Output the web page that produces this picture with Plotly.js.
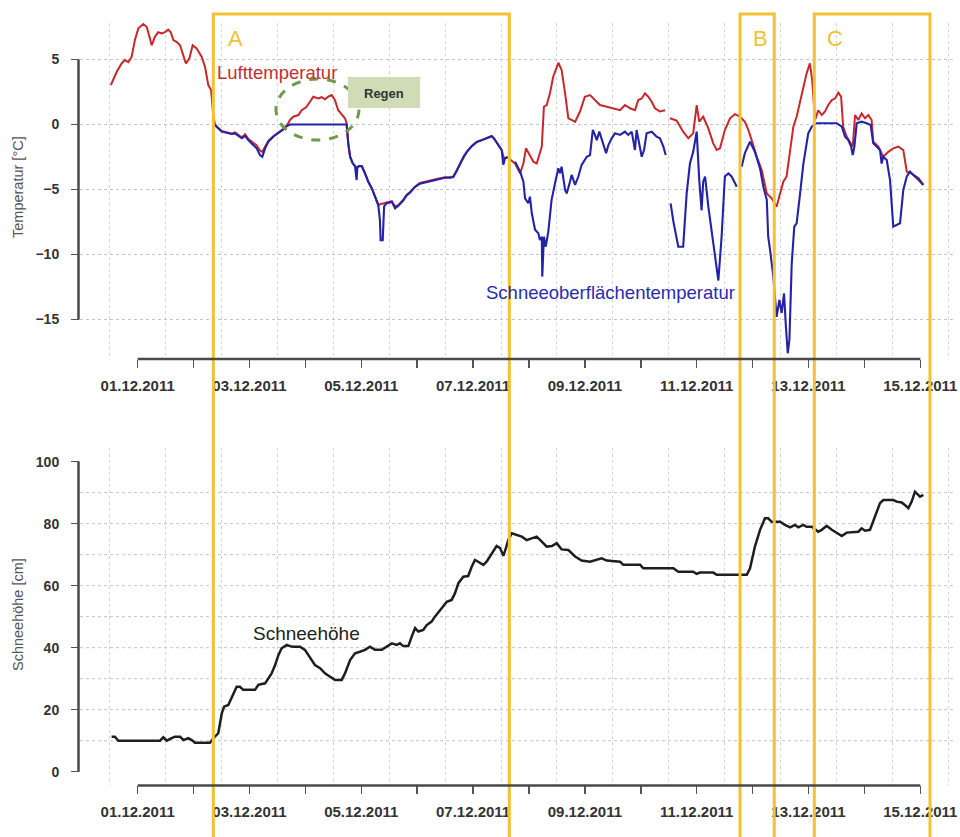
<!DOCTYPE html>
<html>
<head>
<meta charset="utf-8">
<script src="https://cdn.plot.ly/plotly-3.0.1.min.js"></script>
<style>html,body{margin:0;padding:0;background:#fff}#chart{width:960px;height:837px}</style>
</head>
<body>
<div id="chart"></div>
<script>
// ---- data: hours since 01.12.2011 00:00 ----
const airHours = [-11.5,-9.0,-6.9,-5.5,-4.0,-2.6,-1.2,0.3,2.4,3.9,5.3,6.0,7.4,8.8,10.3,11.7,13.1,14.2,15.3,16.7,18.2,19.6,20.7,22.2,23.6,25.3,27.5,28.9,30.3,31.5,32.5,33.2,
33.9,36.1,38.2,40.4,41.8,43.2,44.7,46.1,47.5,49.6,51.1,52.5,53.5,54.7,56.1,58.2,60.4,62.5,64.0,65.4,
66.8,69.0,70.4,72.3,74.0,75.4,77.5,79.0,80.4,81.8,83.3,84.7,86.1,87.6,89.0,89.7,
90.4,91.2,92.3,93.3,94.0,95.1,96.2,97.6,99.0,100.5,101.9,103.3,104.0,104.3,105.2,105.8,106.9,109.1,110.5,111.9,114.0,115.5,116.9,119.1,121.2,123.4,125.5,127.6,129.8,131.9,134.1,135.5,137.0,138.4,139.8,141.3,143.4,145.6,147.7,149.8,152.0,153.0,154.8,156.3,157.0,157.7,158.7,
162.0,164.2,165.6,166.7,168.4,169.9,171.3,173.5,174.4,175.6,177.0,178.4,180.6,182.0,183.5,184.9,186.3,187.8,189.9,192.0,194.2,196.3,198.5,201.4,204.2,207.1,209.2,211.4,213.5,214.9,216.4,217.8,219.2,220.7,222.1,224.2,226.4,227.5,
228.5,231.4,234.2,236.4,238.5,240.0,241.1,242.8,245.0,247.1,248.6,250.0,252.1,254.3,256.4,258.6,260.7,262.2,263.6,265.8,267.9,270.1,272.2,274.3,275.8,277.2,278.6,280.1,281.5,282.9,284.4,285.8,287.2,288.6,289.6,290.8,292.2,293.7,295.1,296.5,298.0,299.4,300.8,302.0,302.9,304.4,305.8,307.0,308.0,309.4,310.8,312.3,313.7,315.1,315.8,318.0,320.1,322.3,324.4,326.6,328.7,330.2,332.3,334.5,337.3];
const airTemp = [3.04,4.06,4.7,4.96,4.8,5.2,6.5,7.4,7.73,7.5,6.6,6.1,6.75,7.1,7.0,7.1,7.3,7.1,6.5,6.37,6.1,5.35,4.7,5.1,6.1,5.86,5.2,4.45,3.04,2.65,0.6,0.0,
-0.15,-0.5,-0.6,-0.7,-0.6,-0.8,-1.0,-0.75,-1.1,-1.4,-1.6,-2.0,-2.1,-1.7,-1.25,-0.9,-0.65,-0.35,-0.1,0.35,
0.6,0.73,1.1,1.32,1.75,2.14,2.0,2.1,1.94,2.14,2.27,1.88,1.1,0.73,0.48,0.1,
-1.45,-2.48,-2.98,-3.2,-3.3,-3.2,-3.2,-3.76,-4.4,-4.9,-5.55,-6.2,-6.15,-6.1,-6.1,-6.05,-6.0,-5.9,-6.3,-6.2,-5.8,-5.4,-5.2,-4.78,-4.5,-4.4,-4.3,-4.2,-4.14,-4.06,-4.06,-4.0,-3.5,-3.0,-2.48,-2.1,-1.65,-1.32,-1.2,-1.06,-0.88,-1.06,-1.58,-1.96,-2.48,-2.6,-2.52,
-3.0,-3.75,-3.0,-1.83,-2.35,-2.86,-3.0,-1.7,1.37,1.5,2.4,3.68,4.75,4.2,2.4,0.48,0.35,0.2,1.0,2.14,2.27,1.88,1.5,1.37,1.25,1.1,1.5,1.25,1.1,1.88,2.0,2.4,2.14,1.75,1.25,1.0,1.1,null,
0.48,0.3,-0.55,-1.06,-0.68,1.5,0.22,0.6,-0.3,-1.45,-1.96,-1.83,-0.42,0.48,0.8,0.6,0.2,-0.42,-1.2,-2.48,-3.5,-5.3,-5.68,-6.32,-5.3,-4.4,-4.0,-2.2,-0.17,0.6,1.75,2.9,3.94,4.7,3.4,0.35,1.1,0.73,1.0,1.5,1.88,2.0,2.45,2.14,-0.17,-0.94,-1.32,-1.7,0.73,0.35,0.86,0.48,0.73,0.35,-1.32,-1.7,-2.48,-2.1,-1.83,-1.7,-1.96,-3.63,-3.75,-4.14,-4.65];

const surfHours = [33.2,33.9,36.1,38.2,40.4,41.8,43.2,44.7,46.1,47.5,49.6,51.1,52.5,53.5,54.7,56.1,58.2,60.4,62.5,64.0,65.4,77.0,89.7,
90.4,91.2,92.3,93.3,94.0,94.3,95.1,96.2,97.6,99.0,100.5,101.9,103.3,104.0,104.3,105.2,105.8,106.9,109.1,110.5,111.9,114.0,115.5,116.9,119.1,121.2,123.4,125.5,127.6,129.8,131.9,134.1,135.5,137.0,138.4,139.8,141.3,143.4,145.6,147.7,149.8,152.0,153.0,154.8,156.3,157.0,157.7,158.7,160.3,
162.0,164.2,165.6,166.3,167.7,168.4,169.2,170.6,172.0,172.7,173.5,173.7,174.4,175.2,176.3,177.7,179.2,180.6,181.3,182.0,183.5,184.2,185.6,186.3,187.8,189.2,190.6,192.8,194.2,195.4,196.3,197.1,198.2,199.7,201.1,202.1,203.5,204.9,207.1,209.2,210.6,212.1,213.5,214.2,215.4,216.4,217.4,218.5,220.7,222.8,224.2,225.7,226.7,227.7,
228.8,230.0,232.1,234.2,235.7,237.1,238.5,240.0,241.1,242.1,242.8,243.6,245.0,247.1,249.3,250.7,252.1,253.6,255.0,256.4,257.2,258.2,
259.3,260.7,262.9,265.0,267.2,268.6,270.1,270.7,271.5,272.9,274.3,275.5,276.5,277.5,278.3,279.1,279.8,280.8,281.9,282.9,284.4,285.8,287.9,289.4,291.5,294.4,297.2,300.1,302.3,303.7,305.1,306.3,307.0,307.7,308.7,310.8,313.0,314.7,315.8,317.3,318.7,319.4,320.1,321.6,323.0,324.4,325.9,327.3,328.7,330.2,331.6,333.0,335.2,337.3];
const surfTemp = [0.0,-0.17,-0.55,-0.63,-0.73,-0.68,-0.88,-1.06,-0.88,-1.2,-1.58,-1.83,-2.35,-2.48,-1.83,-1.32,-0.94,-0.68,-0.37,-0.12,0.0,0.0,0.0,
-1.45,-2.48,-2.98,-3.2,-4.27,-3.3,-3.2,-3.2,-3.76,-4.4,-4.9,-5.55,-6.2,-7.35,-8.9,-8.9,-6.3,-6.05,-5.95,-6.45,-6.25,-5.85,-5.45,-5.25,-4.8,-4.55,-4.45,-4.35,-4.25,-4.18,-4.1,-4.1,-4.05,-3.55,-3.05,-2.5,-2.1,-1.68,-1.35,-1.22,-1.08,-0.9,-1.08,-1.6,-1.98,-3.1,-2.6,-2.52,null,
-2.86,-3.63,-4.4,-5.68,-6.06,-5.55,-6.83,-8.1,-8.37,-8.88,-8.63,-11.7,-8.63,-9.4,-8.24,-5.8,-4.5,-3.37,-3.75,-3.24,-5.04,-5.3,-4.4,-3.88,-4.65,-4.0,-3.1,-2.48,-2.35,-0.42,-0.8,-1.2,-0.55,-1.45,-2.2,-1.58,-1.06,-0.68,-0.8,-0.55,-0.8,-0.55,-1.96,-0.42,-1.7,-2.48,-1.96,-0.68,-0.55,-0.94,-1.06,-1.7,-2.35,null,
-6.06,-7.47,-9.4,-9.4,-5.3,-3.0,-2.1,-0.55,-4.27,-6.6,-4.4,-4.0,-6.32,-8.9,-12.0,-8.63,-4.0,-3.76,-4.0,-4.5,-4.78,null,
-3.24,-2.2,-1.32,-2.1,-3.37,-4.78,-5.8,-8.63,-9.65,-11.7,-14.8,-13.5,-14.5,-13.0,-15.55,-17.6,-16.6,-10.7,-7.86,-7.6,-5.3,-3.0,-0.68,-0.17,0.1,0.1,0.14,0.1,-0.17,-0.94,-1.2,-1.7,-2.35,-1.7,0.1,0.22,0.1,-0.04,-1.45,-1.7,-1.96,-3.0,-2.48,-2.73,-4.27,-7.86,-7.73,-7.6,-5.04,-4.0,-3.63,-3.88,-4.14,-4.65];

const snowHours = [-11.2,-9.8,-8.3,-1.9,9.6,11.0,12.5,14.6,16.0,18.2,19.6,21.7,23.2,24.6,31.0,32.5,34.6,36.1,37.1,38.9,40.4,42.5,43.9,45.3,50.4,51.8,54.7,56.1,57.5,59.0,60.4,61.8,64.0,65.4,66.8,69.7,71.8,73.3,76.1,78.3,80.4,82.6,84.7,87.6,89.0,91.2,93.3,95.4,97.6,99.7,101.9,104.8,106.9,109.1,111.2,112.6,114.0,116.2,117.6,119.1,120.5,122.6,124.1,126.2,127.6,129.1,130.5,132.7,134.8,136.2,137.7,139.8,141.9,143.4,144.8,146.2,148.4,149.8,152.0,154.1,155.6,157.0,158.1,159.1,160.6,162.7,164.9,167.0,169.2,171.3,173.5,175.6,177.8,179.9,182.0,184.9,187.8,190.6,194.2,197.1,199.2,201.4,207.1,208.5,215.7,217.1,230.0,232.1,238.5,240.0,241.4,247.1,248.6,261.5,262.9,265.0,267.2,269.3,270.7,272.2,275.8,277.9,280.1,282.2,283.6,285.8,287.2,289.4,290.8,292.2,293.7,295.8,298.0,300.1,302.3,304.4,307.2,309.4,310.8,312.3,314.4,316.6,318.7,320.1,324.4,325.9,328.0,329.4,330.9,332.3,333.7,335.1,335.9,337.3];
const snowDepth = [11.3,11.3,10.0,10.0,10.0,11.1,10.0,10.8,11.3,11.3,10.2,10.8,10.2,9.35,9.35,10.8,12.4,18.8,21.0,21.5,24.2,27.4,27.4,26.4,26.4,28.0,28.5,30.1,31.7,34.4,37.6,39.8,40.9,40.5,40.3,40.3,39.3,37.6,34.4,33.4,31.7,30.6,29.6,29.6,31.7,36.0,38.2,38.7,39.3,40.3,39.3,39.3,40.3,41.4,40.9,41.4,40.5,40.5,43.5,46.3,45.2,45.7,47.3,48.4,50.0,51.6,52.7,54.8,55.4,57.5,60.8,62.9,63.1,66.1,68.3,67.7,66.7,67.7,70.4,72.8,72.1,69.6,72.1,74.7,76.9,76.4,75.8,74.7,75.3,75.8,74.2,72.6,72.8,73.7,71.7,71.5,69.4,68.1,67.7,68.3,68.8,68.1,67.7,66.7,66.7,65.6,65.6,64.5,64.5,63.8,64.2,64.2,63.5,63.5,65.6,72.6,78.0,81.7,81.7,80.6,80.6,79.6,78.8,79.6,78.8,79.6,79.0,79.0,78.2,77.4,78.0,79.3,78.0,77.1,76.0,77.1,77.4,77.4,78.5,77.7,78.0,82.3,86.6,87.6,87.6,87.1,86.8,86.0,85.0,87.1,90.3,89.3,88.7,89.3];

const tickDays = ['2011-12-01','2011-12-02','2011-12-03','2011-12-04','2011-12-05','2011-12-06','2011-12-07','2011-12-08','2011-12-09','2011-12-10','2011-12-11','2011-12-12','2011-12-13','2011-12-14','2011-12-15'];
const tickLabels = ['01.12.2011','','03.12.2011','','05.12.2011','','07.12.2011','','09.12.2011','','11.12.2011','','13.12.2011','','15.12.2011'];
const tempTicks = [-15,-10,-5,0,5];
const snowTicks = [0,20,40,60,80,100];
const snowGrid = [10,20,30,40,50,60,70,80,90];
const phases = [
  {label:'A', start:'2011-12-02 08:28', end:'2011-12-07 15:33'},
  {label:'B', start:'2011-12-11 18:36', end:'2011-12-12 09:18'},
  {label:'C', start:'2011-12-13 02:30', end:'2011-12-15 04:10'}
];

// ---- helpers ----
const START = Date.UTC(2011, 11, 1);
const toDate = hs => hs.map(h => START + h * 3600000);
const parseD = s => Date.parse(s.length === 10 ? s + 'T00:00:00Z' : s.replace(' ', 'T') + ':00Z');

const FONT = '"Liberation Sans", Arial, sans-serif';
const YELLOW = '#f1c232';
const AXC = '#4a4a4a';
const W = 960, H = 837, ML = 80, MR = 5;
const xRange = ['2011-11-29 23:14', '2011-12-15 14:54'];
const topRange = [-18.04, 7.81];
const botRange = [-4.29, 104.4];
const topDom = [0.5711, 0.9725];
const botDom = [0.0621, 0.4648];
const xr0 = parseD(xRange[0]), xr1 = parseD(xRange[1]);
const xPaper = s => (parseD(s) - xr0) / (xr1 - xr0);
const yPaper = (v, dom, rng) => dom[0] + (v - rng[0]) / (rng[1] - rng[0]) * (dom[1] - dom[0]);
const PW = W - ML - MR;

const traces = [
  {x: toDate(airHours), y: airTemp, xaxis:'x', yaxis:'y', type:'scatter', mode:'lines',
   line:{color:'#c8282a', width:2}, connectgaps:false, name:'Lufttemperatur'},
  {x: toDate(surfHours), y: surfTemp, xaxis:'x', yaxis:'y', type:'scatter', mode:'lines',
   line:{color:'#2323a8', width:2.1}, connectgaps:false, name:'Schneeoberflächentemperatur'},
  {x: toDate(snowHours), y: snowDepth, xaxis:'x2', yaxis:'y2', type:'scatter', mode:'lines',
   line:{color:'#1e1e1e', width:2.5}, name:'Schneehöhe'}
];

const xCommon = {
  type:'date', range:xRange,
  tickmode:'array', tickvals: tickDays, ticktext: tickLabels,
  ticks:'outside', ticklen:8, tickwidth:1.5, tickcolor:'#555',
  tickfont:{family:FONT, size:15, color:'#333', weight:'bold'},
  ticklabelstandoff: 5,
  showgrid:false, zeroline:false, showline:false, fixedrange:true,
  minor:{tickmode:'linear', tick0:'2011-11-30 12:00', dtick:86400000,
         showgrid:true, gridcolor:'#d6d6d6', griddash:'dot', gridwidth:1, ticks:''}
};
const yCommon = {
  tickmode:'array', ticks:'outside', ticklen:8, tickwidth:1.5, tickcolor:'#555',
  tickfont:{family:FONT, size:14, color:'#333', weight:'bold'},
  ticklabelstandoff: 9, zeroline:false, showline:false, fixedrange:true
};

const shapes = [];
snowGrid.forEach(v => shapes.push({type:'line', xref:'paper', yref:'y2', x0:0, x1:1, y0:v, y1:v, layer:'below',
  line:{color:'#c4c4c4', width:1, dash:'dot'}}));
phases.forEach(p => shapes.push({type:'rect', xref:'x', yref:'paper', x0:p.start, x1:p.end, y0:-0.02, y1:0.9833,
  line:{color:YELLOW, width:3}, fillcolor:'rgba(0,0,0,0)', layer:'above'}));
shapes.push({type:'circle', xref:'paper', yref:'paper', x0:(276-ML)/PW, x1:(359-ML)/PW, y0:1-140/H, y1:1-79/H,
  line:{color:'#6f9a48', width:3, dash:'dash'}});
shapes.push({type:'rect', xref:'paper', yref:'paper', x0:(348-ML)/PW, x1:(420-ML)/PW, y0:1-108/H, y1:1-77/H,
  fillcolor:'#cfdcb6', line:{width:0}});
// R-style axis lines (first..last tick), placed at the end so they sit on top
const xa0 = xPaper(tickDays[0]), xa1 = xPaper(tickDays[tickDays.length - 1]);
[topDom[0], botDom[0] - 0.5 / H].forEach(yy => shapes.push({type:'line', xref:'paper', yref:'paper',
  x0:xa0, x1:xa1, y0:yy, y1:yy, layer:'above', line:{color:AXC, width:2.5, dash:'solid'}}));
[[tempTicks, topDom, topRange], [snowTicks, botDom, botRange]].forEach(([tk, dom, rng]) => shapes.push({type:'line', xref:'paper', yref:'paper',
  x0:-1.5 / PW, x1:-1.5 / PW, y0:yPaper(tk[0], dom, rng), y1:yPaper(tk[tk.length - 1], dom, rng),
  layer:'above', line:{color:AXC, width:2.5, dash:'solid'}}));

const px = v => (v - ML) / PW;
const py = v => 1 - v / H;
const annotations = [];
const labelLefts = [226, 751, 825];
phases.forEach((p, i) => {
  annotations.push({text:p.label, xref:'paper', yref:'paper', x:px(labelLefts[i]), y:py(38), xanchor:'left', yanchor:'middle',
    showarrow:false, font:{family:FONT, size:22, color:YELLOW}});
});
annotations.push({text:'Lufttemperatur', xref:'paper', yref:'paper', x:px(215), y:py(73), xanchor:'left', yanchor:'middle',
  showarrow:false, font:{family:FONT, size:18.5, color:'#c0302e'}});
annotations.push({text:'Schneeoberflächentemperatur', xref:'paper', yref:'paper', x:px(484), y:py(293), xanchor:'left', yanchor:'middle',
  showarrow:false, font:{family:FONT, size:18.5, color:'#2b2bb0'}});
annotations.push({text:'Schneehöhe', xref:'paper', yref:'paper', x:px(251), y:py(633), xanchor:'left', yanchor:'middle',
  showarrow:false, font:{family:FONT, size:19, color:'#222'}});
annotations.push({text:'Regen', xref:'paper', yref:'paper', x:px(384), y:py(93), xanchor:'center', yanchor:'middle',
  showarrow:false, font:{family:FONT, size:13, color:'#333', weight:'bold'}});
annotations.push({text:'Temperatur [°C]', xref:'paper', yref:'paper', x:px(18), y:py(187), xanchor:'center', yanchor:'middle',
  textangle:-90, showarrow:false, font:{family:FONT, size:14.5, color:'#555'}});
annotations.push({text:'Schneehöhe [cm]', xref:'paper', yref:'paper', x:px(18), y:py(615), xanchor:'center', yanchor:'middle',
  textangle:-90, showarrow:false, font:{family:FONT, size:14.5, color:'#555'}});

const layout = {
  width:W, height:H,
  margin:{l:ML, r:MR, t:0, b:0},
  paper_bgcolor:'#fff', plot_bgcolor:'#fff',
  showlegend:false,
  xaxis: Object.assign({}, xCommon, {domain:[0,1], anchor:'y'}),
  xaxis2: Object.assign({}, xCommon, {domain:[0,1], anchor:'y2'}),
  yaxis: Object.assign({}, yCommon, {domain:topDom, anchor:'x', range:topRange, tickvals:tempTicks,
    showgrid:true, gridcolor:'#c4c4c4', griddash:'dot', gridwidth:1}),
  yaxis2: Object.assign({}, yCommon, {domain:botDom, anchor:'x2', range:botRange, tickvals:snowTicks, showgrid:false}),
  shapes: shapes,
  annotations: annotations
};

Plotly.newPlot('chart', traces, layout, {staticPlot:true, displayModeBar:false});
</script>
</body>
</html>
